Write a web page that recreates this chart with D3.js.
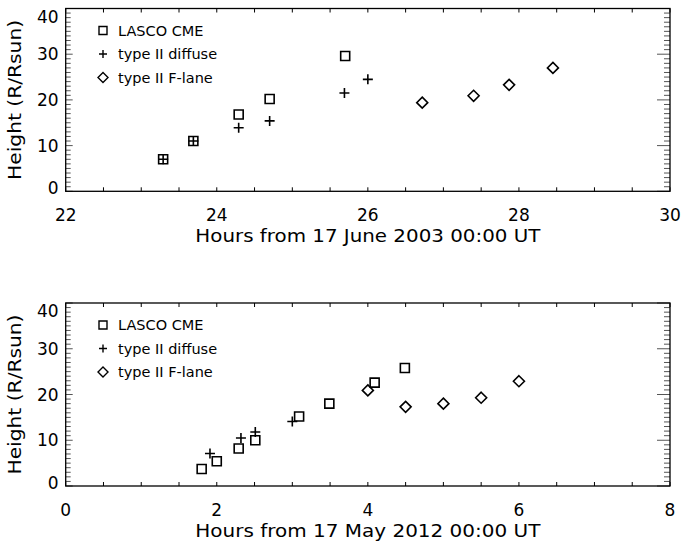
<!DOCTYPE html>
<html>
<head>
<meta charset="utf-8">
<script src="https://cdn.jsdelivr.net/npm/d3@7"></script>
<style>
  body { margin: 0; background: white; }
  text { font-family: "DejaVu Sans", sans-serif; fill: black; }
</style>
</head>
<body>
<div id="container"></div>
<script>
let w = 681;
let h = 545;

// DATA - panel 1 (17 June 2003)
let cme2003X = [23.29, 23.69, 24.29, 24.70, 25.70];
let cme2003Y = [7.0, 11.0, 16.8, 20.2, 29.6];
let diffuse2003X = [23.29, 23.69, 24.29, 24.70, 25.69, 26.0];
let diffuse2003Y = [7.0, 11.0, 13.9, 15.4, 21.5, 24.5];
let flane2003X = [26.72, 27.40, 27.87, 28.45];
let flane2003Y = [19.4, 20.9, 23.3, 27.0];
let xTicks2003 = [22, 24, 26, 28, 30];

// DATA - panel 2 (17 May 2012)
let cme2012X = [1.80, 2.0, 2.29, 2.51, 3.09, 3.49, 4.09, 4.49];
let cme2012Y = [3.7, 5.4, 8.2, 10.0, 15.2, 18.0, 22.6, 25.8];
let diffuse2012X = [1.91, 2.32, 2.51, 3.0];
let diffuse2012Y = [7.1, 10.5, 11.8, 14.1];
let flane2012X = [4.0, 4.5, 5.0, 5.5, 6.0];
let flane2012Y = [20.9, 17.3, 18.0, 19.3, 22.9];
let xTicks2012 = [0, 2, 4, 6, 8];

let yTicks = [0, 10, 20, 30, 40];
let legendLabels = ["LASCO CME", "type II diffuse", "type II F-lane"];

let viz = d3.select("#container").append("svg")
  .attr("width", w)
  .attr("height", h)
  .style("background-color", "white");

let left = 65.7, right = 670;

function symbolPath(type, size) {
  let s = size / 2;
  if (type == "square") return `M${-s},${-s}H${s}V${s}H${-s}Z`;
  if (type == "plus") return `M${-s},0H${s}M0,${-s}V${s}`;
  return `M0,${-s - 1}L${s + 1},0L0,${s + 1}L${-s - 1},0Z`;
}

function drawPanel(top, bottom, xDomain, xTicks, series, title) {
  let g = viz.append("g");
  let x = d3.scaleLinear().domain(xDomain).range([left, right]);
  let y = d3.scaleLinear().domain([0, 40]).range([bottom, top]);

  // minor / major ticks
  let xMinor = d3.range(xDomain[0], xDomain[1] + 0.01, 0.5);
  g.selectAll(".xtb").data(xMinor).enter().append("line")
    .attr("x1", d => x(d)).attr("x2", d => x(d))
    .attr("y1", bottom).attr("y2", bottom - 4)
    .attr("stroke", "black").attr("stroke-width", 1);
  g.selectAll(".xtt").data(xMinor).enter().append("line")
    .attr("x1", d => x(d)).attr("x2", d => x(d))
    .attr("y1", top).attr("y2", top + 4)
    .attr("stroke", "black").attr("stroke-width", 1);

  let yMinor = d3.range(0, 41, 1);
  g.selectAll(".ytl").data(yMinor).enter().append("line")
    .attr("x1", left).attr("x2", d => left + (d % 10 == 0 ? 7 : 5))
    .attr("y1", d => y(d)).attr("y2", d => y(d))
    .attr("stroke", "#555").attr("stroke-width", 1);
  g.selectAll(".ytr").data(yMinor).enter().append("line")
    .attr("x1", right).attr("x2", d => right - (d % 10 == 0 ? 13 : 6))
    .attr("y1", d => y(d)).attr("y2", d => y(d))
    .attr("stroke", "#555").attr("stroke-width", 1);

  // frame
  g.append("rect")
    .attr("x", left).attr("y", top)
    .attr("width", right - left).attr("height", bottom - top)
    .attr("fill", "none").attr("stroke", "black").attr("stroke-width", 1.3);

  // tick labels
  g.selectAll(".xl").data(xTicks).enter().append("text")
    .attr("x", d => x(d)).attr("y", bottom + 30)
    .attr("text-anchor", "middle").attr("font-size", 17)
    .text(d => d);
  g.selectAll(".yl").data(yTicks).enter().append("text")
    .attr("x", left - 7)
    .attr("y", d => Math.min(Math.max(y(d), top + 8), bottom - 3) + 6)
    .attr("text-anchor", "end").attr("font-size", 17)
    .text(d => d);

  // axis titles
  g.append("text")
    .attr("x", (left + right) / 2).attr("y", bottom + 51)
    .attr("text-anchor", "middle").attr("font-size", 17)
    .attr("textLength", 345).attr("lengthAdjust", "spacingAndGlyphs")
    .text(title);
  g.append("text")
    .attr("transform", `translate(21,${(top + bottom) / 2}) rotate(-90)`)
    .attr("text-anchor", "middle").attr("font-size", 18)
    .attr("textLength", 160).attr("lengthAdjust", "spacingAndGlyphs")
    .text("Height (R/Rsun)");

  // data points
  series.forEach(s => {
    let pts = s.xs.map((d, i) => [d, s.ys[i]]);
    g.selectAll(".pt-" + s.type).data(pts).enter().append("path")
      .attr("transform", d => `translate(${x(d[0])},${y(d[1])})`)
      .attr("d", symbolPath(s.type, s.type == "plus" ? 10 : 9))
      .attr("fill", "none").attr("stroke", "black").attr("stroke-width", 1.6);
  });

  // legend
  series.forEach((s, i) => {
    let ly = top + 22 + i * 23.5;
    g.append("path")
      .attr("transform", `translate(103,${ly})`)
      .attr("d", symbolPath(s.type, 8))
      .attr("fill", "none").attr("stroke", "black").attr("stroke-width", 1.4);
    g.append("text")
      .attr("x", 118).attr("y", ly + 5)
      .attr("font-size", 14.5)
      .text(legendLabels[i]);
  });
}

drawPanel(8.5, 191.3, [22, 30], xTicks2003, [
  { type: "square", xs: cme2003X, ys: cme2003Y },
  { type: "plus", xs: diffuse2003X, ys: diffuse2003Y },
  { type: "diamond", xs: flane2003X, ys: flane2003Y }
], "Hours from 17 June 2003 00:00 UT");

drawPanel(303, 486, [0, 8], xTicks2012, [
  { type: "square", xs: cme2012X, ys: cme2012Y },
  { type: "plus", xs: diffuse2012X, ys: diffuse2012Y },
  { type: "diamond", xs: flane2012X, ys: flane2012Y }
], "Hours from 17 May 2012 00:00 UT");
</script>
</body>
</html>
